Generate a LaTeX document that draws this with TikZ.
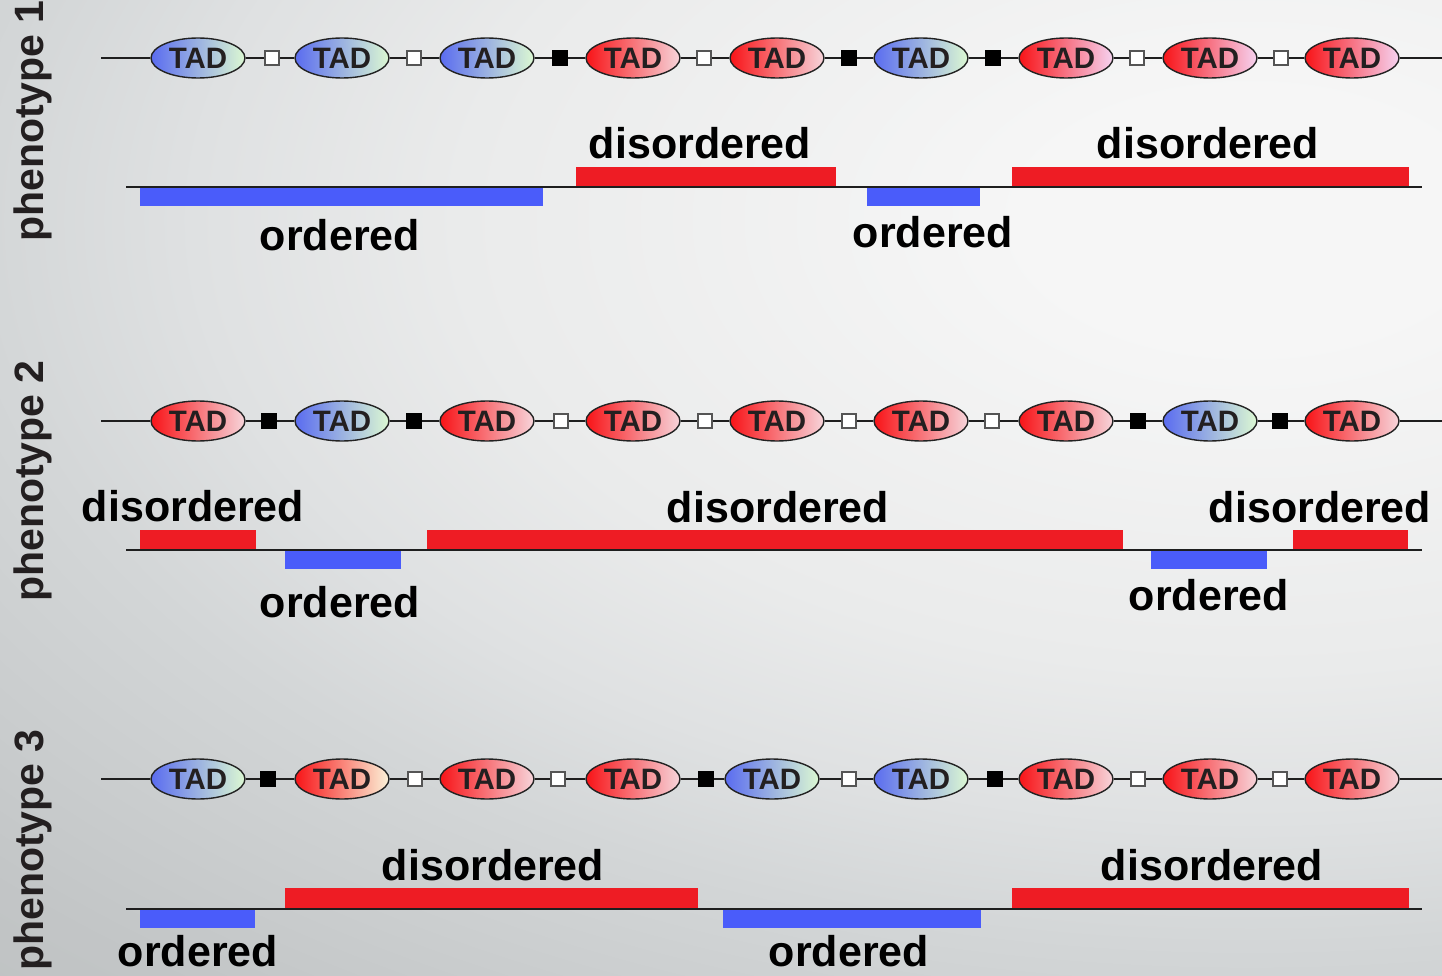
\documentclass[tikz,border=0pt]{standalone}
\usepackage{fontspec}
\setmainfont{Liberation Sans}
\usetikzlibrary{shapes.geometric}

\definecolor{bgA}{HTML}{F6F6F6}
\definecolor{bgB}{HTML}{EAEBEB}
\definecolor{bgC}{HTML}{DFE1E2}
\definecolor{bgD}{HTML}{D3D6D7}
\definecolor{bgE}{HTML}{C2C5C6}
\definecolor{bgF}{HTML}{BABEBE}
\definecolor{tadblue}{HTML}{5A6CF0}
\definecolor{tadgreen}{HTML}{DCF8D2}
\definecolor{tadred}{HTML}{F81418}
\definecolor{tadpink}{HTML}{F7D4DA}
\definecolor{tadlilac}{HTML}{F6D2F0}
\definecolor{tadcream}{HTML}{FBF2D8}
\definecolor{tadedge}{HTML}{222222}
\definecolor{tadtext}{HTML}{231F20}
\definecolor{sqedge}{HTML}{555555}
\definecolor{inkline}{HTML}{1E1E1E}
\definecolor{barred}{HTML}{EE1C24}
\definecolor{barblue}{HTML}{4A5CFA}

% soft light glow towards the upper right of the page
% (the 25bp ring lands on the shaded path's outline)
\pgfdeclareradialshading{bgglow}{\pgfpoint{0bp}{0bp}}{%
  color(0bp)=(bgA); color(2.5bp)=(bgA); color(9bp)=(bgB);
  color(12bp)=(bgC); color(14.5bp)=(bgD); color(19.5bp)=(bgE);
  color(25bp)=(bgF); color(50bp)=(bgF)}

\begin{document}
\begin{tikzpicture}[x=1pt,y=-1pt,
  tadbase/.style={ellipse, draw=tadedge, line width=1.4pt,
    minimum width=94pt, minimum height=40pt, inner sep=0pt,
    font=\bfseries\fontsize{29.5}{29.5}\selectfont, text=tadtext},
  tadb/.style={tadbase, left color=tadblue, right color=tadgreen},
  tadr/.style={tadbase, left color=tadred, right color=tadpink},
  tadl/.style={tadbase, left color=tadred, right color=tadlilac},
  tadc/.style={tadbase, left color=tadred, right color=tadcream},
  sqbase/.style={rectangle, minimum size=14pt, inner sep=0pt, line width=1.3pt},
  sqw/.style={sqbase, fill=white, draw=sqedge},
  sqk/.style={sqbase, fill=black, draw=black},
  chainline/.style={draw=inkline, line width=2.5pt},
  baseline/.style={draw=inkline, line width=2.8pt},
  redbar/.style={fill=barred},
  bluebar/.style={fill=barblue},
  lab/.style={font=\bfseries\fontsize{43}{43}\selectfont, inner sep=0pt, anchor=base},
  pheno/.style={font=\bfseries\fontsize{41}{41}\selectfont, inner sep=0pt, rotate=90, text=tadtext}
]
\useasboundingbox (0,0) rectangle (1442,976);

% background
\begin{scope}
  \clip (0,0) rectangle (1442,976);
  \shade[shading=bgglow] (1250,220) ellipse [x radius=2200, y radius=1250];
\end{scope}

% phenotype titles
\node[pheno] (p1) at (33,121) {phenotype 1};
\node[pheno] (p2) at (33,481) {phenotype 2};
\node[pheno] (p3) at (33,850) {phenotype 3};

% ---------- row 1 : TAD chain ----------
\coordinate (r1a) at (101,58);
\coordinate (r1b) at (1442,58);
\foreach \x/\c [count=\i] in {198/b,342/b,487/b,633/r,777/r,921/b,1066/l,1210/l,1352/l}
  \node[tad\c] (r1t\i) at (\x,58) {TAD};
\foreach \x/\c [count=\i] in {272/w,414/w,560/k,704/w,849/k,993/k,1137/w,1281/w}
  \node[sq\c] (r1s\i) at (\x,58) {};
\draw[chainline] (r1a) -- (r1t1);
\draw[chainline] (r1t9) -- (r1b);
\foreach \i [evaluate=\i as \j using int(\i+1)] in {1,...,8}
  \draw[chainline] (r1t\i) -- (r1s\i) -- (r1t\j);

% row 1 : domains
\fill[bluebar] (140,188) rectangle (543,206);
\fill[redbar]  (576,167) rectangle (836,186);
\fill[bluebar] (867,188) rectangle (980,206);
\fill[redbar]  (1012,167) rectangle (1409,186);
\coordinate (r1l) at (126,187);
\coordinate (r1r) at (1422,187);
\draw[baseline] (r1l) -- (r1r);
\node[lab] (r1o1) at (340,251) {ordered};
\node[lab] (r1d1) at (700,159) {disordered};
\node[lab] (r1o2) at (933,248) {ordered};
\node[lab] (r1d2) at (1208,159) {disordered};

% ---------- row 2 : TAD chain ----------
\coordinate (r2a) at (101,421);
\coordinate (r2b) at (1442,421);
\foreach \x/\c [count=\i] in {198/r,342/b,487/r,633/r,777/r,921/r,1066/r,1210/b,1352/r}
  \node[tad\c] (r2t\i) at (\x,421) {TAD};
\foreach \x/\c [count=\i] in {269/k,414/k,561/w,705/w,849/w,992/w,1138/k,1280/k}
  \node[sq\c] (r2s\i) at (\x,421) {};
\draw[chainline] (r2a) -- (r2t1);
\draw[chainline] (r2t9) -- (r2b);
\foreach \i [evaluate=\i as \j using int(\i+1)] in {1,...,8}
  \draw[chainline] (r2t\i) -- (r2s\i) -- (r2t\j);

% row 2 : domains
\fill[redbar]  (140,530) rectangle (256,549);
\fill[bluebar] (285,551) rectangle (401,569);
\fill[redbar]  (427,530) rectangle (1123,549);
\fill[bluebar] (1151,551) rectangle (1267,569);
\fill[redbar]  (1293,530) rectangle (1408,549);
\coordinate (r2l) at (126,550);
\coordinate (r2r) at (1422,550);
\draw[baseline] (r2l) -- (r2r);
\node[lab] (r2d1) at (193,521) {disordered};
\node[lab] (r2o1) at (340,617) {ordered};
\node[lab] (r2d2) at (778,522) {disordered};
\node[lab] (r2o2) at (1209,610) {ordered};
\node[lab] (r2d3) at (1320,522) {disordered};

% ---------- row 3 : TAD chain ----------
\coordinate (r3a) at (101,779);
\coordinate (r3b) at (1442,779);
\foreach \x/\c [count=\i] in {198/b,342/c,487/r,633/r,772/b,921/b,1066/r,1210/r,1352/r}
  \node[tad\c] (r3t\i) at (\x,779) {TAD};
\foreach \x/\c [count=\i] in {268/k,415/w,558/w,706/k,849/w,995/k,1138/w,1280/w}
  \node[sq\c] (r3s\i) at (\x,779) {};
\draw[chainline] (r3a) -- (r3t1);
\draw[chainline] (r3t9) -- (r3b);
\foreach \i [evaluate=\i as \j using int(\i+1)] in {1,...,8}
  \draw[chainline] (r3t\i) -- (r3s\i) -- (r3t\j);

% row 3 : domains
\fill[bluebar] (140,910) rectangle (255,928);
\fill[redbar]  (285,888) rectangle (698,908);
\fill[bluebar] (723,910) rectangle (981,928);
\fill[redbar]  (1012,888) rectangle (1409,908);
\coordinate (r3l) at (126,909);
\coordinate (r3r) at (1422,909);
\draw[baseline] (r3l) -- (r3r);
\node[lab] (r3o1) at (198,966) {ordered};
\node[lab] (r3d1) at (493,880) {disordered};
\node[lab] (r3o2) at (849,966) {ordered};
\node[lab] (r3d2) at (1212,880) {disordered};
\end{tikzpicture}
\end{document}
